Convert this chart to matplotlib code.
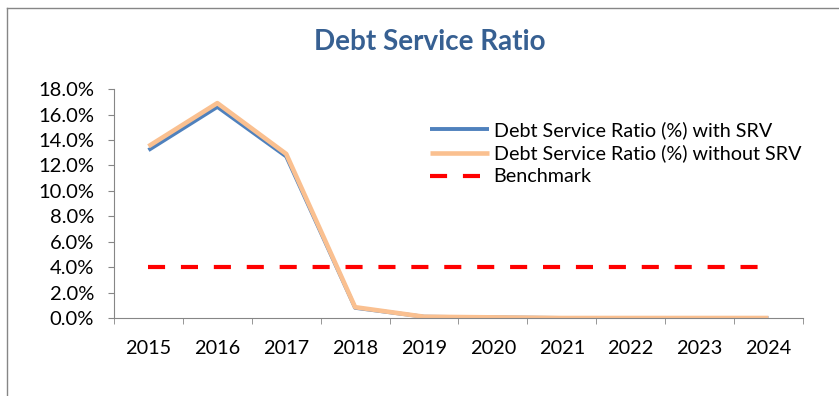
import matplotlib.pyplot as plt
from matplotlib.lines import Line2D
from matplotlib.ticker import FuncFormatter

years = ["2015", "2016", "2017", "2018", "2019", "2020", "2021", "2022", "2023", "2024"]
with_srv = [13.2, 16.6, 12.7, 0.8, 0.1, 0.05, 0.0, 0.0, 0.0, 0.0]
without_srv = [13.5, 16.9, 12.9, 0.85, 0.1, 0.05, 0.0, 0.0, 0.0, 0.0]
benchmark = [4.0] * 10
y_ticks = [0, 2, 4, 6, 8, 10, 12, 14, 16, 18]

plt.rcParams["font.family"] = ["Lato", "DejaVu Sans"]

fig = plt.figure(figsize=(8.39, 3.96), dpi=100)
ax = fig.add_axes([0.1359, 0.197, 0.821, 0.578])

x = list(range(len(years)))
ax.plot(x, with_srv, color="#4F81BD", lw=2.8, solid_capstyle="butt",
        label="Debt Service Ratio (%) with SRV")
ax.plot(x, without_srv, color="#FAC090", lw=3.3, solid_capstyle="butt",
        label="Debt Service Ratio (%) without SRV")
ax.plot(x, benchmark, color="#FF0000", lw=3, dashes=(4.1, 3.8),
        label="Benchmark")

ax.set_xlim(-0.5, len(years) - 0.5)
ax.set_ylim(0, 18)
ax.set_yticks(y_ticks)
ax.yaxis.set_major_formatter(FuncFormatter(lambda v, p: f"{v:.1f}%"))
ax.set_xticks(x)
ax.set_xticklabels(years)
ax.set_xticks([i - 0.5 for i in range(len(years) + 1)], minor=True)
ax.tick_params(axis="x", which="major", length=0, pad=16, labelsize=14.3)
ax.tick_params(axis="x", which="minor", length=4.5, color="#868686", direction="out")
ax.tick_params(axis="y", length=4.5, color="#868686", direction="out", labelsize=14.5, pad=10)

for side in ("top", "right"):
    ax.spines[side].set_visible(False)
for side in ("left", "bottom"):
    ax.spines[side].set_color("#868686")

ax.legend(loc="upper left", bbox_to_anchor=(0.513, 0.695), bbox_transform=fig.transFigure,
          frameon=False, fontsize=14.2, handlelength=2.95, handletextpad=0.25,
          labelspacing=0.3, borderaxespad=0, borderpad=0)

fig.text(0.512, 0.894, "Debt Service Ratio", ha="center", va="center",
         fontsize=20, fontweight="bold", color="#376092")

# chart area border (top and left visible)
fig.add_artist(Line2D([7 / 839, 1], [1 - 8 / 396, 1 - 8 / 396], transform=fig.transFigure,
                      color="#868686", lw=1))
fig.add_artist(Line2D([7 / 839, 7 / 839], [0, 1 - 8 / 396], transform=fig.transFigure,
                      color="#868686", lw=1))

fig.savefig("out.png", dpi=100)
